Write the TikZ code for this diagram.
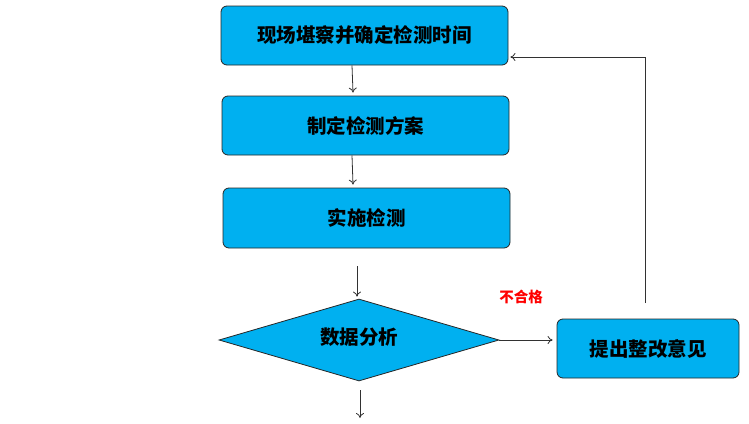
\documentclass[tikz,border=0pt]{standalone}
\usepackage{fontspec}
\newfontfamily\cjk{Noto Sans CJK SC}
\usetikzlibrary{shapes.geometric,arrows.meta}
\definecolor{boxfill}{RGB}{0,176,240}
\definecolor{linec}{RGB}{50,50,50}
\tikzset{
  stepbox/.style={draw=black!85, line width=0.8pt, fill=boxfill, rounded corners=6pt,
    minimum width=287pt, minimum height=59pt, inner sep=0pt,
    font=\cjk\bfseries\fontsize{19.5}{21}\selectfont},
  decide/.style={draw=black!85, line width=0.8pt, fill=boxfill, diamond, aspect=3.4,
    minimum width=280pt, minimum height=82pt, inner sep=0pt,
    font=\cjk\bfseries\fontsize{19.5}{21}\selectfont},
  arr/.style={draw=linec, line width=0.8pt, -{To[length=5pt,width=8pt]}},
  lbl/.style={text=red, font=\cjk\bfseries\fontsize{14.5}{16}\selectfont, inner sep=0pt}
}
\begin{document}
\begin{tikzpicture}[x=1pt,y=-1pt]
\useasboundingbox (0,0) rectangle (749,423);
\node[stepbox] (b1) at (364.5,35.5) {现场堪察并确定检测时间};
\node[stepbox] (b2) at (365.5,125.5) {制定检测方案};
\node[stepbox, minimum height=60pt] (b3) at (366.5,218) {实施检测};
\node[decide] (d) at (359,340) {\raisebox{8pt}{数据分析}};
\node[stepbox, minimum width=182pt] (b4) at (648,348.5) {提出整改意见};
\node[lbl] (ng) at (521,297) {不合格};
\coordinate (a3s) at (357,266);
\coordinate (dn1) at (360,390);
\coordinate (dn2) at (360,418);
\coordinate (fb) at (645,303);
\draw[arr] ([xshift=-12.5pt]b1.south) -- ([xshift=-12.5pt,yshift=3pt]b2.north);
\draw[arr] ([xshift=-13.5pt]b2.south) -- ([xshift=-13.5pt,yshift=3pt]b3.north);
\draw[arr] (a3s) -- ([xshift=-2pt,yshift=2pt]d.north);
\draw[arr] (dn1) -- (dn2);
\draw[arr, shorten >=4pt] (d.east) -- (d.east -| b4.west);
\draw[arr] (fb) |- ([xshift=2pt,yshift=-21.5pt]b1.east);
\end{tikzpicture}
\end{document}
